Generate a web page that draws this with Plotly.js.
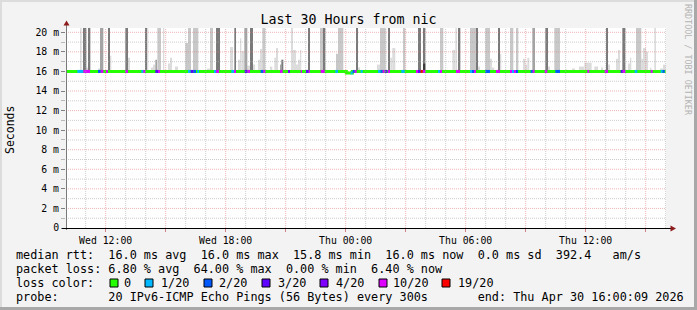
<!DOCTYPE html>
<html><head><meta charset="utf-8">
<script src="https://cdn.plot.ly/plotly-3.0.1.min.js"></script>
<style>html,body{margin:0;padding:0;background:#f3f3f3;}#chart{width:697px;height:310px;}</style>
</head><body><div id="chart"></div>
<script>
// ---------- DATA ----------
const chartTitle = 'Last 30 Hours from nic';
const startTime = '2026-04-29T10:00:00Z';   // Wed 10:00
const spanMinutes = 1800;                    // 30 hours

// smoke bars: start (minutes after startTime), duration (minutes), top (ms), shade (1 light .. 5 darkest)
const smokeStart = [43,52,62,67,97,103,127,133,179,187,
  238,244,256,262,269,275,292,307,313,328,
  359,367,382,424,433,451,493,506,517,523,
  527,536,545,553,562,577,583,590,613,626,
  631,643,647,676,682,691,697,703,727,763,
  772,811,817,871,877,934,943,958,967,974,
  980,1012,1057,1072,1072,1123,1160,1169,1177,1213,
  1231,1237,1259,1273,1279,1297,1303,1333,1351,1372,
  1379,1385,1400,1439,1447,1466,1501,1519,1540,1556,
  1586,1606,1621,1627,1651,1657,1670,1687,1693,1711,
  1727,1732,1741,1753,1766,1783,1792];
const smokeDur = [5,10,5,7,6,10,6,4,8,6,
  6,4,6,7,5,11,4,6,6,9,
  8,9,16,9,9,12,9,5,6,4,
  8,9,8,9,6,6,7,9,7,5,
  6,4,6,6,9,6,6,4,6,9,
  7,6,16,6,6,9,15,4,6,6,
  9,7,9,7,7,10,9,5,7,18,
  6,6,14,6,7,6,4,10,7,7,
  6,6,8,8,6,17,4,9,15,22,
  11,6,6,6,6,6,9,6,4,16,
  5,9,6,4,5,9,8];
const smokeTop = [21,21,16.4,21,16.3,21,21,17.6,21,17.4,
  21,21,16.4,16.7,17.2,21,21,16.8,17.4,16.5,
  18.9,21,21,16.3,21,21,18.5,21,17.2,19.4,
  18.1,21,16.6,21,16.7,17.2,18.3,21,16.5,17.4,
  18.4,16.7,17.2,21,18.2,16.7,17.2,18.2,21,21,
  21,17.8,21,21,16.4,16.7,21,21,21,17.4,
  18.4,21,21,21,16.8,21,18.2,21,21,21,
  21,16.5,21,17.3,16.4,21,17.8,21,21,17.3,
  16.7,17.4,21,21,16.5,21,16.2,16.3,16.5,16.9,
  16.5,16.4,21,16.7,17.3,18.2,21,16.8,17.4,21,
  17.3,18.4,18.0,16.4,21,16.3,16.7];
const smokeShade = [1,4,1,4,1,3,4,1,4,1,
  4,1,1,1,3,2,1,1,1,1,
  2,2,2,1,2,4,1,4,1,1,
  1,3,1,4,1,1,1,2,1,1,
  1,3,4,1,1,1,1,1,4,2,
  4,2,2,4,1,1,2,1,4,1,
  1,2,4,4,5,2,1,1,4,2,
  4,1,2,1,1,4,1,2,2,1,
  1,1,3,4,1,2,1,1,1,1,
  1,1,4,1,1,1,4,1,1,2,
  1,1,1,1,1,1,1];

// median rtt (ms), step values
const medianStart = [0, 842, 860];
const medianValue = [16.0, 15.85, 16.0];

// packet loss episodes: start (min), duration (min), lost pings out of 20
const lossStart = [35,53,97,105,121,179,227,233,269,277,
  367,375,383,395,445,451,497,505,537,545,
  585,593,643,667,705,721,729,765,809,855,
  861,867,885,937,945,951,959,967,1007,1051,
  1057,1065,1071,1117,1123,1171,1213,1219,1225,1259,
  1291,1333,1339,1345,1351,1395,1401,1437,1469,1565,
  1617,1665,1671,1707,1755,1785,1791];
const lossDur = [18,20,8,8,6,8,6,6,8,6,
  8,8,8,5,6,9,8,6,8,8,
  8,6,8,6,4,8,4,12,8,6,
  6,6,6,8,6,6,6,6,10,6,
  8,6,8,6,6,12,6,6,6,14,
  12,6,6,6,6,6,6,8,14,6,
  10,6,8,8,6,6,6];
const lossCount = [1,10,2,10,10,10,1,10,3,10,
  1,3,2,1,1,10,1,10,3,10,
  2,10,10,4,10,3,10,10,1,1,
  2,10,1,1,2,10,3,10,1,10,
  3,19,10,1,10,10,1,2,10,2,
  10,10,1,10,2,2,10,10,2,10,
  10,3,10,1,10,1,2];

const lossLevels = [0,1,2,3,4,10,19];
const lossLabels = ['0','1/20','2/20','3/20','4/20','10/20','19/20'];
const lossColors = ['#26ff00','#00b8ff','#0059ff','#5e00ff','#7e00ff','#dd00ff','#ff0000'];
const shadeColors = ['', '#dcdcdc', '#c8c8c8', '#a4a4a4', '#7a7a7a', '#3c3c3c'];

const xTickMinutes = [120,300,480,660,840,1020,1200,1380,1560,1740];
const xTickLabels = ['Wed 12:00','','Wed 18:00','','Thu 00:00','','Thu 06:00','','Thu 12:00',''];
const yTickValues = [0,2,4,6,8,10,12,14,16,18,20];
const yTickLabels = ['0','2 m','4 m','6 m','8 m','10 m','12 m','14 m','16 m','18 m','20 m'];

const rttStats = ['16.0','16.0','15.8','16.0','0.0','392.4'];
const lossStats = ['6.80','64.00','0.00','6.40'];
const probeText = '20 IPv6-ICMP Echo Pings (56 Bytes) every 300s';
const endText = 'end: Thu Apr 30 16:00:09 2026';

// ---------- BUILD ----------
const MIN = 60000;
const t0 = Date.parse(startTime);
const tm = m => t0 + m * MIN;
function medianAt(m){ let v = medianValue[0]; for(let i=0;i<medianStart.length;i++){ if(m>=medianStart[i]) v = medianValue[i]; } return v; }
function lossIndex(c){ let k=0; for(let i=0;i<lossLevels.length;i++){ if(c>=lossLevels[i]) k=i; } return k; }

const traces = [];
for(let s=1;s<=5;s++){
  const xs=[], ys=[], bs=[], ws=[];
  for(let i=0;i<smokeStart.length;i++){
    if(smokeShade[i]!==s) continue;
    const b = medianAt(smokeStart[i]);
    xs.push(tm(smokeStart[i] + smokeDur[i]/2));
    ys.push(smokeTop[i]-b); bs.push(b); ws.push(smokeDur[i]*MIN);
  }
  traces.push({type:'bar', x:xs, y:ys, base:bs, width:ws, marker:{color:shadeColors[s], line:{width:0}}, hoverinfo:'skip', showlegend:false});
}
// median line (no loss)
traces.push({type:'scatter', mode:'lines', x:[...medianStart.map(tm), tm(spanMinutes)], y:[...medianValue, medianValue[medianValue.length-1]],
  line:{color:lossColors[0], width:3, shape:'hv'}, hoverinfo:'skip', showlegend:false});
// loss coloured segments
for(let k=1;k<lossLevels.length;k++){
  const xs=[], ys=[];
  for(let i=0;i<lossStart.length;i++){
    if(lossIndex(lossCount[i])!==k) continue;
    const v = medianAt(lossStart[i]);
    xs.push(tm(lossStart[i]), tm(lossStart[i]+lossDur[i]), null);
    ys.push(v, v, null);
  }
  traces.push({type:'scatter', mode:'lines', x:xs, y:ys, line:{color:lossColors[k], width:3}, hoverinfo:'skip', showlegend:false, connectgaps:false});
}

// ---------- LAYOUT ----------
const W=697, H=310, ML=66, MR=31, MT=28, MB=82;
const PW=W-ML-MR, PH=H-MT-MB;
const px = x => (x-ML)/PW;
const py = y => (H-MB-y)/PH;
const mono = 'DejaVu Sans Mono';
const nb = s => s.replace(/ /g,'\u00a0');

const majorGrid = 'rgba(225,120,120,0.55)';
const minorGrid = 'rgba(170,170,170,0.6)';
const shapes = [];
// grid (drawn over the smoke like rrdtool)
for(let h=1; h<=spanMinutes/60; h++){
  const clock = (10+h)%24;
  const major = clock%3===0;
  shapes.push({type:'line', xref:'x', yref:'paper', x0:tm(h*60), x1:tm(h*60), y0:0, y1:1, layer:'above',
    line:{color: major?majorGrid:minorGrid, width:1, dash:'1px,1px'}});
}
for(let v=1; v<=20; v++){
  const major = v%2===0;
  const nearMedian = Math.abs(v-medianValue[0])<0.5;
  shapes.push({type:'line', xref:'paper', yref:'y', x0:0, x1:1, y0:v, y1:v, layer: nearMedian?'below':'above',
    line:{color: major?majorGrid:minorGrid, width:1, dash:'1px,1px'}});
}
// axes lines and arrows
shapes.push({type:'line', xref:'paper', yref:'paper', x0:px(66.5), x1:px(66.5), y0:py(230), y1:py(24), line:{color:'#7a7a7a', width:1}, layer:'above'});
shapes.push({type:'line', xref:'paper', yref:'paper', x0:px(62), x1:px(671), y0:py(228.5), y1:py(228.5), line:{color:'#000', width:1}, layer:'above'});
shapes.push({type:'path', xref:'paper', yref:'paper', path:`M ${px(63.5)},${py(25.5)} L ${px(66.5)},${py(20.5)} L ${px(69.5)},${py(25.5)} Z`, fillcolor:'#8e1b1b', line:{width:0}, layer:'above'});
shapes.push({type:'path', xref:'paper', yref:'paper', path:`M ${px(670.5)},${py(225.5)} L ${px(676)},${py(228.5)} L ${px(670.5)},${py(231.5)} Z`, fillcolor:'#8e1b1b', line:{width:0}, layer:'above'});
// frame
shapes.push({type:'rect', xref:'paper', yref:'paper', x0:px(0), x1:px(697), y0:py(0), y1:py(2), fillcolor:'#dcdcdc', line:{width:0}});
shapes.push({type:'rect', xref:'paper', yref:'paper', x0:px(0), x1:px(2), y0:py(0), y1:py(310), fillcolor:'#dcdcdc', line:{width:0}});
shapes.push({type:'rect', xref:'paper', yref:'paper', x0:px(694), x1:px(697), y0:py(0), y1:py(310), fillcolor:'#a8a8a8', line:{width:0}});
shapes.push({type:'rect', xref:'paper', yref:'paper', x0:px(0), x1:px(697), y0:py(307), y1:py(310), fillcolor:'#a8a8a8', line:{width:0}});

const legFont = {family:mono, size:11.8, color:'#000'};
const annotations = [];
const ann = (x,y,text,extra) => annotations.push(Object.assign({xref:'paper', yref:'paper', x:px(x), y:py(y), text:nb(text), showarrow:false, xanchor:'left', yanchor:'middle', font:legFont, borderpad:0}, extra||{}));

ann(10,130,'Seconds',{xanchor:'center', textangle:-90, font:{family:mono,size:11.5,color:'#000'}});
ann(688,60,'RRDTOOL / TOBI OETIKER',{xanchor:'center', textangle:90, font:{family:mono,size:8.4,color:'#b4b4b4'}});
ann(15,255,`median rtt:  ${rttStats[0]} ms avg  ${rttStats[1]} ms max  ${rttStats[2]} ms min  ${rttStats[3]} ms now  ${rttStats[4]} ms sd  ${rttStats[5]}   am/s`);
ann(15,269,`packet loss: ${lossStats[0]} % avg  ${lossStats[1]} % max  ${lossStats[2]} % min  ${lossStats[3]} % now`);
ann(15,283,'loss color:');
ann(15,297,`probe:       ${probeText}       ${endText}`);
const boxX = [110,145,204,262,320,379,442];
const labX = [123,160,218,277,335,392,457];
for(let k=0;k<lossLabels.length;k++){
  shapes.push({type:'rect', xref:'paper', yref:'paper', x0:px(boxX[k]), x1:px(boxX[k]+8), y0:py(279), y1:py(287), fillcolor:lossColors[k], line:{color:'#000', width:1}});
  ann(labX[k],283,lossLabels[k]);
}

const tickFont = {family:mono, size:9.8, color:'#000'};
const layout = {
  width:W, height:H, margin:{l:ML, r:MR, t:MT, b:MB, pad:0},
  paper_bgcolor:'#f3f3f3', plot_bgcolor:'#ffffff',
  barmode:'overlay', showlegend:false, hovermode:false,
  title:{text:chartTitle, font:{family:mono, size:13.3, color:'#000'}, xref:'container', x:0.5, xanchor:'center', yref:'container', y:1-19/H, yanchor:'middle'},
  xaxis:{type:'date', range:[tm(1), tm(spanMinutes+1)], tickmode:'array', tickvals:xTickMinutes.map(tm), ticktext:xTickLabels,
    ticks:'outside', ticklen:3, tickcolor:'#d08080', showgrid:false, zeroline:false, showline:false, tickfont:tickFont, fixedrange:true},
  yaxis:{range:[0,20.44], tickmode:'array', tickvals:yTickValues, ticktext:yTickLabels, ticks:'outside', ticklen:4, tickcolor:'#808080',
    minor:{tickmode:'linear', tick0:0, dtick:1, ticks:'outside', ticklen:4, tickcolor:'#b8b8b8', showgrid:false},
    showgrid:false, zeroline:false, showline:false, tickfont:tickFont, fixedrange:true},
  shapes:shapes, annotations:annotations
};
Plotly.newPlot('chart', traces, layout, {staticPlot:true, displayModeBar:false});
</script></body></html>
